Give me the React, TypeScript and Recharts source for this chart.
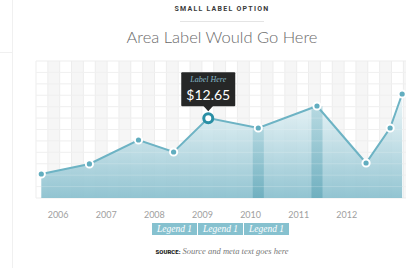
import { ComposedChart, Area, Line, XAxis, YAxis, CartesianGrid, ReferenceArea, ReferenceLine, ReferenceDot } from 'recharts'

// x positions are fractional years, values in dollars
const xs = [2005.65, 2006.65, 2007.67, 2008.4, 2009.12, 2010.16, 2011.38, 2012.4, 2012.9, 2013.15]
const values = [3.8, 5.39, 9.19, 7.29, 12.65, 11.09, 14.57, 5.54, 11.09, 16.47]
const yearTicks = [2006, 2007, 2008, 2009, 2010, 2011, 2012]
const highlightCols = [5, 6]
const activeIndex = 4
const legendItems = ['Legend 1', 'Legend 1', 'Legend 1']

const X_DOMAIN: [number, number] = [2005.54, 2013.23]
const Y_MAX = 21.7
const ROWS = 12

const data = xs.map((x, i) => ({ x, value: values[i] }))
const gridLevels = Array.from({ length: ROWS - 1 }, (_, i) => ((i + 1) * Y_MAX) / ROWS)

const renderDot = (props: any) => {
  const { cx, cy, index } = props
  if (index === activeIndex) {
    return <circle key={index} cx={cx} cy={cy} r={4.5} fill="#fff" stroke="#2a8fa5" strokeWidth={3} />
  }
  return <circle key={index} cx={cx} cy={cy} r={3.6} fill="#62adbf" stroke="#fff" strokeWidth={2} />
}

const TooltipBox = (props: any) => {
  const { cx, cy } = props
  const top = cy - 46
  return (
    <g>
      <rect x={cx - 27} y={top} width={54} height={34} fill="#262727" rx={1} />
      <path d={`M${cx - 5},${cy - 12.5} L${cx + 5},${cy - 12.5} L${cx},${cy - 7} Z`} fill="#262727" />
      <text x={cx} y={top + 10} textAnchor="middle" fontFamily="Liberation Serif, serif" fontStyle="italic" fontSize={8} fill="#86b9c8">
        Label Here
      </text>
      <text x={cx} y={top + 28} textAnchor="middle" fontFamily="Lato, sans-serif" fontSize={14} fill="#fff">
        ${values[activeIndex].toFixed(2)}
      </text>
    </g>
  )
}

export default function App() {
  return (
    <div style={{ position: 'absolute', left: 0, top: 0, width: 411, height: 268, background: '#fff', overflow: 'hidden' }}>
      <div style={{ position: 'absolute', left: 12, top: 0, width: 1, height: 268, background: '#f0f0f0' }} />
      <div style={{ position: 'absolute', left: 0, top: 52, width: 12, height: 1, background: '#f0f0f0' }} />

      <div style={{ position: 'absolute', left: 0, width: 444, top: 5, textAlign: 'center', fontFamily: 'Roboto, sans-serif', fontWeight: 700, fontSize: 7, letterSpacing: 1.25, color: '#3a3a3a' }}>
        SMALL LABEL OPTION
      </div>
      <div style={{ position: 'absolute', left: 180, top: 21, width: 84, height: 1, background: '#e4e4e4' }} />
      <div style={{ position: 'absolute', left: 0, width: 444, top: 27, textAlign: 'center', fontFamily: 'Lato, sans-serif', fontWeight: 300, fontSize: 16.5, color: '#6a6a6a' }}>
        Area Label Would Go Here
      </div>

      <div style={{ position: 'absolute', left: 0, top: 0 }}>
        <ComposedChart width={411} height={268} data={data} margin={{ top: 61, right: 5, bottom: 40, left: 36 }}>
          <defs>
            <linearGradient id="areaFill" x1="0" y1="0" x2="0" y2="1">
              <stop offset="0%" stopColor="#e8f4f7" stopOpacity={0.85} />
              <stop offset="100%" stopColor="#8cc1cf" stopOpacity={1} />
            </linearGradient>
            <linearGradient id="colFill" x1="0" y1="0" x2="0" y2="1">
              <stop offset="0%" stopColor="#a5d0da" />
              <stop offset="100%" stopColor="#61a7b8" />
            </linearGradient>
          </defs>
          <CartesianGrid
            stroke="#ededed"
            verticalFill={['#ffffff', '#f6f6f6']}
            verticalCoordinatesGenerator={({ offset }: any) => {
              const pts: number[] = []
              for (let p = offset.left; p < offset.left + offset.width; p += 11.85) pts.push(p)
              return pts
            }}
            horizontalCoordinatesGenerator={({ offset }: any) => {
              const pts: number[] = []
              for (let i = 0; i <= ROWS; i++) pts.push(offset.top + (i * offset.height) / ROWS)
              return pts
            }}
          />
          <XAxis
            type="number"
            dataKey="x"
            domain={X_DOMAIN}
            ticks={yearTicks}
            allowDataOverflow
            axisLine={false}
            tickLine={false}
            tickMargin={8}
            height={30}
            tick={{ fontSize: 9, fill: '#a0a0a0', fontFamily: 'Lato, sans-serif' }}
          />
          <YAxis hide domain={[0, Y_MAX]} allowDataOverflow />
          <Area
            type="linear"
            dataKey="value"
            stroke="none"
            fill="url(#areaFill)"
            fillOpacity={0.95}
            isAnimationActive={false}
          />
          {highlightCols.map((i) => (
            <ReferenceArea
              key={i}
              x1={xs[i] - 0.115}
              x2={xs[i] + 0.115}
              y1={0}
              y2={values[i]}
              fill="url(#colFill)"
              fillOpacity={0.7}
              stroke="none"
            />
          ))}
          {gridLevels.map((v) => (
            <ReferenceLine key={v} y={v} stroke="#ffffff" strokeOpacity={0.2} />
          ))}
          <Line
            type="linear"
            dataKey="value"
            stroke="#6db3c4"
            strokeWidth={2}
            dot={renderDot}
            activeDot={false}
            isAnimationActive={false}
          />
          <ReferenceDot x={xs[activeIndex]} y={values[activeIndex]} r={0} shape={TooltipBox} />
        </ComposedChart>
      </div>

      <div style={{ position: 'absolute', left: 152, top: 223, display: 'flex', height: 12 }}>
        {legendItems.map((l, i) => (
          <div
            key={i}
            style={{
              width: 45,
              height: 12,
              lineHeight: '12px',
              background: '#86c1cf',
              borderLeft: i > 0 ? '1px solid #fff' : 'none',
              color: '#fff',
              textAlign: 'center',
              fontFamily: 'Liberation Serif, serif',
              fontStyle: 'italic',
              fontSize: 9.5,
            }}
          >
            {l}
          </div>
        ))}
      </div>

      <div style={{ position: 'absolute', left: 0, width: 444, top: 240, textAlign: 'center', whiteSpace: 'nowrap' }}>
        <span style={{ fontFamily: 'Roboto, sans-serif', fontWeight: 900, fontSize: 6, color: '#222' }}>SOURCE:</span>
        <span style={{ fontFamily: 'Liberation Serif, serif', fontStyle: 'italic', fontSize: 8.5, color: '#777' }}> Source and meta text goes here</span>
      </div>
    </div>
  )
}
